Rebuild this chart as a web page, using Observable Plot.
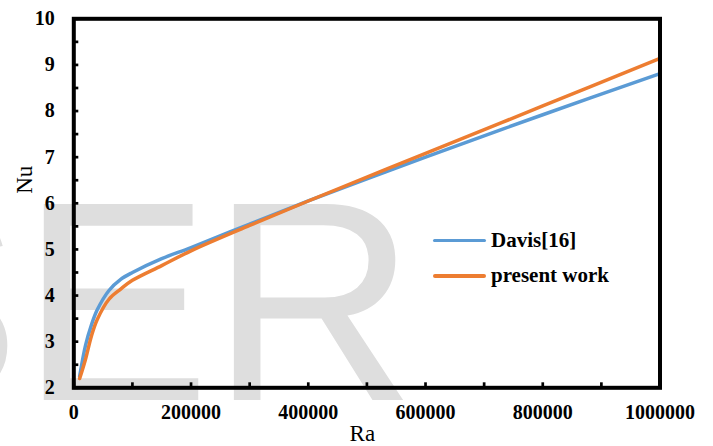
<!DOCTYPE html>
<html>
<head>
<meta charset="utf-8">
<script src="https://cdn.jsdelivr.net/npm/d3@7"></script>
<script src="https://cdn.jsdelivr.net/npm/@observablehq/plot@0.6"></script>
<style>
  html, body { margin: 0; padding: 0; background: #fff; }
  #wrap { position: relative; width: 713px; height: 446px; overflow: hidden; }
  #wrap svg { display: block; }
  .legend { position: absolute; left: 433px; top: 223px; font-family: "Liberation Serif", "Times New Roman", serif; font-weight: bold; font-size: 21px; color: #000; }
  .legend .row { display: flex; align-items: center; height: 35.3px; white-space: nowrap; }
  .legend .swatch { width: 53px; height: 3.5px; border-radius: 2px; margin-right: 5px; }
</style>
</head>
<body>
<div id="wrap"></div>
<script>
// ---- data ----
const ra = [10000, 20000, 30000, 40000, 60000, 80000, 100000, 150000, 200000, 300000, 400000, 500000, 600000, 800000, 1000000];
const davisNu   = [2.25, 2.92, 3.36, 3.69, 4.11, 4.35, 4.50, 4.80, 5.04, 5.55, 6.05, 6.53, 7.00, 7.92, 8.81];
const presentNu = [2.20, 2.62, 3.12, 3.48, 3.92, 4.14, 4.33, 4.65, 4.97, 5.52, 6.05, 6.57, 7.08, 8.11, 9.14];
const seriesNames  = ["Davis[16]", "present work"];
const seriesColors = ["#5B9BD5", "#ED7D31"];
const xTicks = [0, 200000, 400000, 600000, 800000, 1000000];
const xMinorTicks = [0, 100000, 200000, 300000, 400000, 500000, 600000, 700000, 800000, 900000, 1000000];
const yTicks = [2, 3, 4, 5, 6, 7, 8, 9, 10];
const yMinorTicks = [2, 2.5, 3, 3.5, 4, 4.5, 5, 5.5, 6, 6.5, 7, 7.5, 8, 8.5, 9, 9.5, 10];
const xTitle = "Ra";
const yTitle = "Nu";
const watermark = "IJSER";

// ---- build table ----
const rows = [];
[davisNu, presentNu].forEach((vals, s) => {
  vals.forEach((v, i) => rows.push({ series: seriesNames[s], ra: ra[i], nu: v }));
});

const W = 713, H = 446;
const mL = 73.3, mR = 53.5, mT = 18.3, mB = 58.7;
const plotW = W - mL - mR, plotH = H - mT - mB;
const serif = "Liberation Serif, Times New Roman, serif";

const chart = Plot.plot({
  width: W,
  height: H,
  marginLeft: mL, marginRight: mR, marginTop: mT, marginBottom: mB,
  style: { fontFamily: serif, fontSize: "20px", color: "#000", background: "transparent", overflow: "visible" },
  x: { domain: [0, 1000000] },
  y: { domain: [2, 10] },
  color: { domain: seriesNames, range: seriesColors },
  marks: [
    Plot.tickY(yMinorTicks, { y: d => d, insetRight: plotW - 5, stroke: "#000", strokeWidth: 2.7 }),
    Plot.tickX(xMinorTicks, { x: d => d, insetTop: plotH - 5, stroke: "#000", strokeWidth: 2.7 }),
    Plot.axisY(yTicks, { tickSize: 0, tickPadding: 19, fontFamily: serif, fontWeight: "bold", fontSize: 20, label: null }),
    Plot.axisX(xTicks, { tickSize: 0, tickPadding: 17, fontFamily: serif, fontWeight: "bold", fontSize: 20, tickFormat: d => String(d), label: null }),
    Plot.line(rows, { x: "ra", y: "nu", z: "series", stroke: "series", strokeWidth: 3.5, curve: "catmull-rom", strokeLinecap: "round", strokeLinejoin: "round" }),
    Plot.frame({ stroke: "#000", strokeWidth: 4 }),
    Plot.text([xTitle], { text: d => d, frameAnchor: "bottom", dx: -4.5, dy: 46, fontFamily: serif, fontSize: 23, fontWeight: "normal", lineAnchor: "middle" }),
    Plot.text([yTitle], { text: d => d, frameAnchor: "left", rotate: -90, dx: -49, dy: -9.5, fontFamily: serif, fontSize: 23, fontWeight: "normal", lineAnchor: "middle" })
  ]
});

// light grey watermark behind everything
const svg = d3.select(chart);
svg.insert("text", ":first-child")
  .attr("x", 416.3).attr("y", 400)
  .attr("text-anchor", "end")
  .attr("font-family", "Liberation Sans, Arial, sans-serif")
  .attr("font-size", 285)
  .attr("font-weight", "normal")
  .attr("fill", "#dedede")
  .text(watermark);

const wrap = document.getElementById("wrap");
wrap.appendChild(chart);

// legend inside the plot area
const legend = document.createElement("div");
legend.className = "legend";
seriesNames.forEach((name, i) => {
  const row = document.createElement("div");
  row.className = "row";
  const sw = document.createElement("span");
  sw.className = "swatch";
  sw.style.background = seriesColors[i];
  const label = document.createElement("span");
  label.textContent = name;
  row.appendChild(sw);
  row.appendChild(label);
  legend.appendChild(row);
});
wrap.appendChild(legend);
</script>
</body>
</html>
